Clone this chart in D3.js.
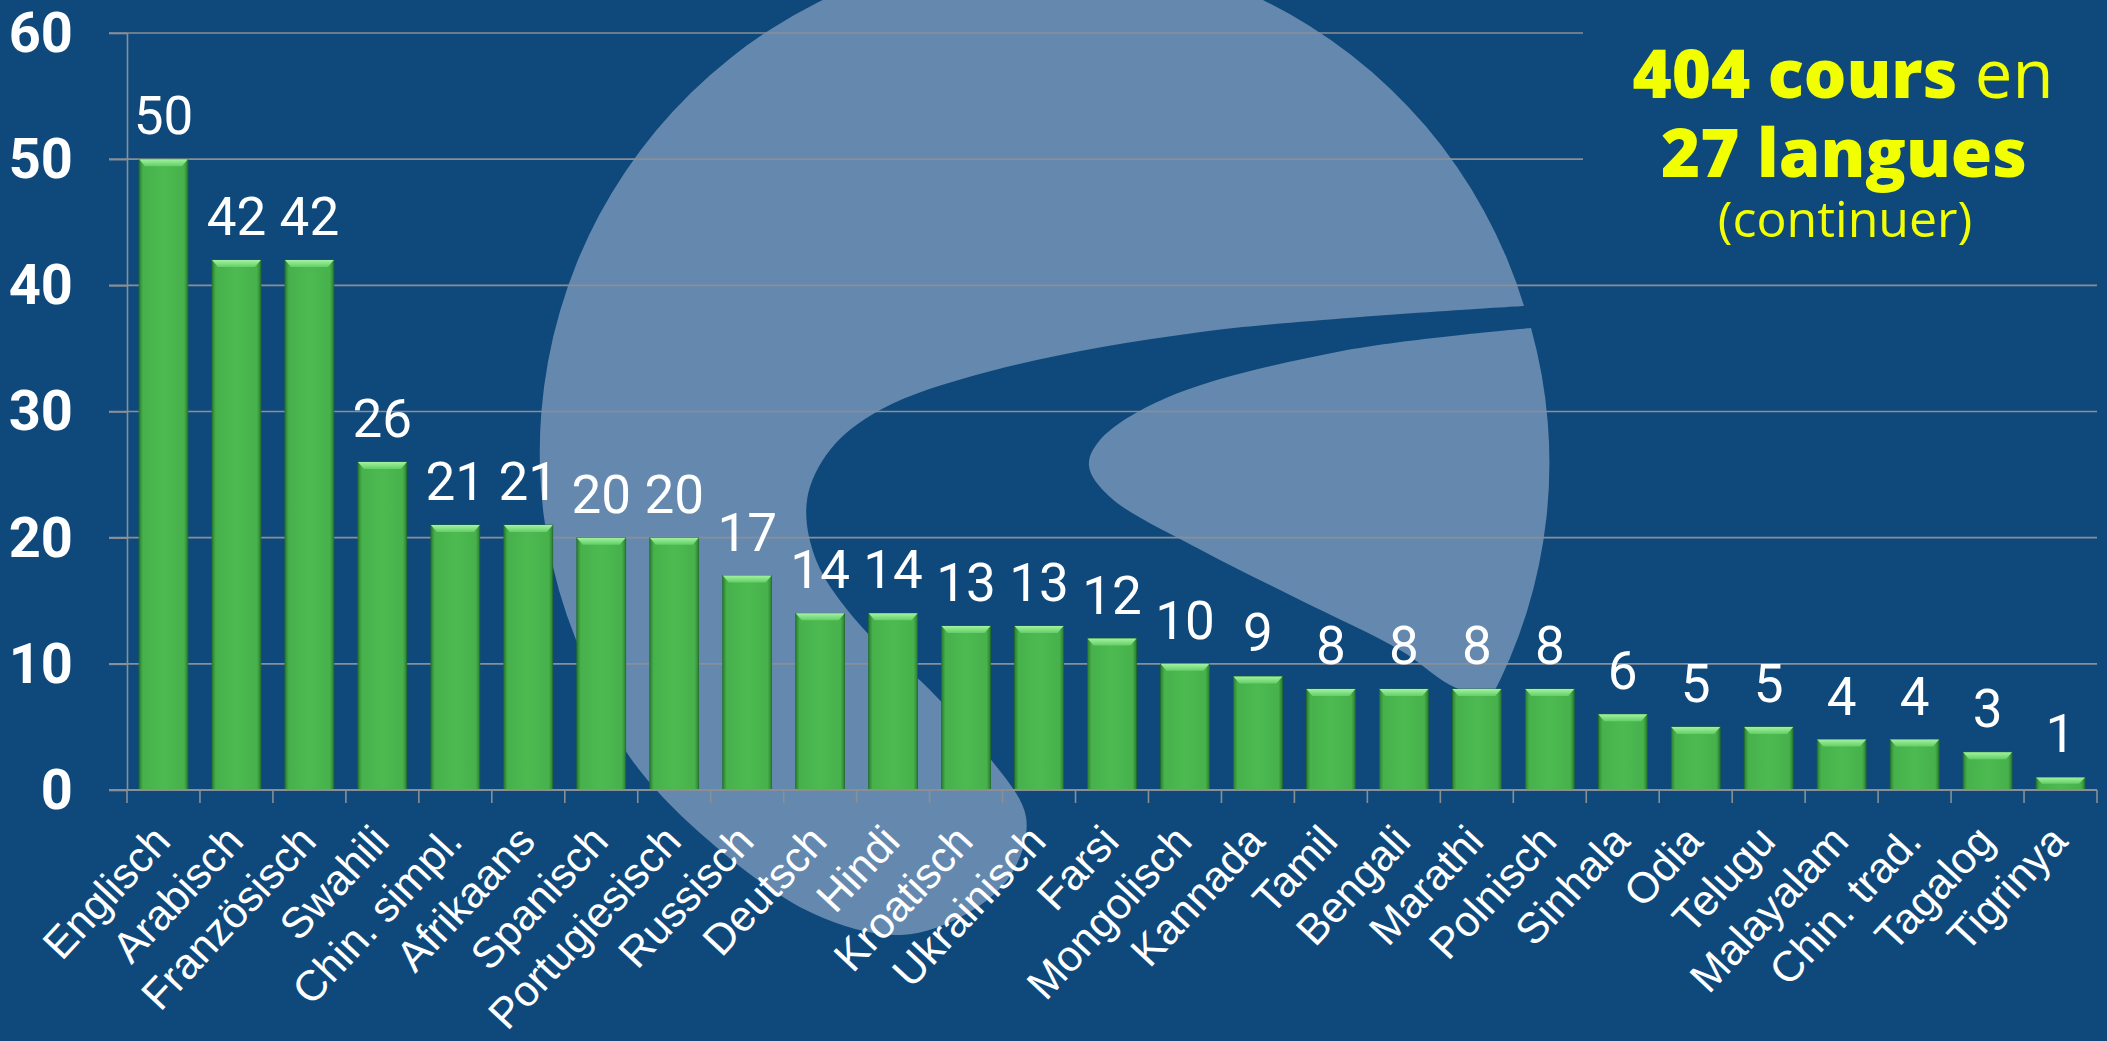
<!DOCTYPE html>
<html>
<head>
<meta charset="utf-8">
<script src="https://cdn.jsdelivr.net/npm/d3@7"></script>
<style>
  html, body { margin: 0; padding: 0; background: #0f497b; }
  svg { display: block; }
</style>
</head>
<body>
<div id="chart"></div>
<script>
// Language course counts
const languages = ["Englisch", "Arabisch", "Französisch", "Swahili", "Chin. simpl.", "Afrikaans",
  "Spanisch", "Portugiesisch", "Russisch", "Deutsch", "Hindi", "Kroatisch", "Ukrainisch", "Farsi",
  "Mongolisch", "Kannada", "Tamil", "Bengali", "Marathi", "Polnisch", "Sinhala", "Odia", "Telugu",
  "Malayalam", "Chin. trad.", "Tagalog", "Tigrinya"];
const courses = [50, 42, 42, 26, 21, 21, 20, 20, 17, 14, 14, 13, 13, 12, 10, 9, 8, 8, 8, 8, 6, 5, 5, 4, 4, 3, 1];
const yTicks = [0, 10, 20, 30, 40, 50, 60];

(function () {
  "use strict";

  const W = 2107, H = 1041;
  const palette = {
    bg: "#0f497b",
    logo: "#6589ae",
    grid: "#8a8f96",
    text: "#ffffff",
    title: "#f2ff00",
  };

  const rows = languages.map((name, i) => ({ name, value: courses[i] }));

  const svg = d3.select("#chart").append("svg")
    .attr("width", W).attr("height", H)
    .attr("viewBox", [0, 0, W, H]);

  svg.append("rect").attr("width", W).attr("height", H).attr("fill", palette.bg);

  // --- Scales ---
  const x = d3.scaleBand().domain(languages).range([127, 2097]).paddingInner(0.33).paddingOuter(0.165);
  const y = d3.scaleLinear().domain([0, 60]).range([790, 33]);
  const bw = x.bandwidth();
  const gap = (x.step() - bw) / 2;

  // --- Background logo ---
  const curve = d3.line().curve(d3.curveCatmullRom);
  const outerPts = [[586, 663], [625, 750], [700, 833], [812, 913], [901, 935], [968, 913], [1012, 873],
    [1026, 817], [985, 752], [930, 690], [860, 625], [816, 560], [807, 500], [830, 450], [880, 410],
    [991, 371], [1201, 332], [1524, 306]];
  const lobePts = [[1531, 328], [1342, 351], [1166, 398], [1100, 440], [1089, 466], [1110, 497],
    [1201, 550], [1300, 600], [1400, 650], [1450, 685], [1490, 700]];
  const logo = svg.append("g").attr("fill", palette.logo);
  logo.append("path").attr("d", curve(outerPts) + "A503,503 0 1 0 586,663Z");
  logo.append("path").attr("d", curve(lobePts) + "A503,503 0 0 0 1531,328Z");

  // --- Gridlines ---
  svg.append("g")
    .selectAll("line")
    .data(yTicks.filter((t) => t > 0))
    .join("line")
    .attr("x1", 109).attr("x2", 2097)
    .attr("y1", (d) => y(d)).attr("y2", (d) => y(d))
    .attr("stroke", palette.grid).attr("stroke-width", 1.6);

  // panel behind the headline hides the top gridlines
  svg.append("rect").attr("x", 1583).attr("y", 0).attr("width", W - 1583).attr("height", 255)
    .attr("fill", palette.bg);

  // --- Bar gradients ---
  const defs = svg.append("defs");
  const body = defs.append("linearGradient").attr("id", "barBody").attr("x1", 0).attr("x2", 1).attr("y1", 0).attr("y2", 0);
  [[0, "#2a7f31"], [0.08, "#47b14b"], [0.5, "#4cba51"], [0.92, "#47b14b"], [1, "#2a7f31"]]
    .forEach(([o, c]) => body.append("stop").attr("offset", o).attr("stop-color", c));
  const bevel = defs.append("linearGradient").attr("id", "barTop").attr("x1", 0).attr("x2", 0).attr("y1", 0).attr("y2", 1);
  [[0, "#a4f2a0"], [1, "#62cf66"]].forEach(([o, c]) => bevel.append("stop").attr("offset", o).attr("stop-color", c));

  // --- Bars ---
  const bars = svg.append("g").selectAll("g").data(rows).join("g");
  bars.append("rect")
    .attr("x", (d) => x(d.name)).attr("y", (d) => y(d.value))
    .attr("width", bw).attr("height", (d) => y(0) - y(d.value))
    .attr("fill", "url(#barBody)")
    .attr("stroke", "#236e2a").attr("stroke-width", 0.8);
  bars.append("path")
    .attr("d", (d) => {
      const x0 = x(d.name), y0 = y(d.value);
      const b = Math.min(7, (y(0) - y0) / 2);
      return `M${x0},${y0}H${x0 + bw}L${x0 + bw - 6},${y0 + b}H${x0 + 6}Z`;
    })
    .attr("fill", "url(#barTop)");

  // --- Value labels ---
  svg.append("g").selectAll("text").data(rows).join("text")
    .attr("x", (d) => x(d.name) + bw / 2)
    .attr("y", (d) => y(d.value) - 25)
    .attr("text-anchor", "middle")
    .attr("fill", palette.text)
    .attr("font-family", "Roboto, sans-serif")
    .attr("font-size", 53)
    .text((d) => d.value);

  // --- Y axis ---
  const yAxis = svg.append("g")
    .attr("transform", "translate(127,0)")
    .call(d3.axisLeft(y).tickValues(yTicks).tickSize(18).tickSizeOuter(0).tickPadding(36));
  yAxis.select(".domain").attr("stroke", palette.grid).attr("stroke-width", 1.6);
  yAxis.selectAll(".tick line").attr("stroke", palette.grid).attr("stroke-width", 1.6);
  yAxis.selectAll(".tick text")
    .attr("fill", palette.text)
    .attr("font-family", "Roboto, sans-serif")
    .attr("font-weight", 700)
    .attr("font-size", 56)
    .attr("dy", "0.33em");

  // --- X axis (ticks between categories) ---
  const xAxis = svg.append("g");
  const bounds = languages.map((d) => x(d) - gap).concat([x(languages[languages.length - 1]) + bw + gap]);
  xAxis.append("line")
    .attr("x1", 109).attr("x2", bounds[bounds.length - 1])
    .attr("y1", y(0)).attr("y2", y(0))
    .attr("stroke", palette.grid).attr("stroke-width", 2);
  xAxis.selectAll(".tk").data(bounds).join("line").attr("class", "tk")
    .attr("x1", (d) => d).attr("x2", (d) => d)
    .attr("y1", y(0)).attr("y2", y(0) + 13)
    .attr("stroke", palette.grid).attr("stroke-width", 1.6);
  xAxis.selectAll("text").data(languages).join("text")
    .attr("transform", (d) => `translate(${x(d) + bw / 2 + 9},843) rotate(-47)`)
    .attr("text-anchor", "end")
    .attr("fill", palette.text)
    .attr("font-family", "'Liberation Sans', Arial, sans-serif")
    .attr("font-size", 43)
    .text((d) => d);

  // --- Headline ---
  const title = svg.append("g")
    .attr("fill", palette.title)
    .attr("font-family", "'Open Sans', sans-serif")
    .attr("text-anchor", "middle");
  const l1 = title.append("text").attr("x", 1843).attr("y", 98).attr("font-size", 67);
  l1.append("tspan").attr("font-weight", 800).text("404 cours");
  l1.append("tspan").attr("font-weight", 400).text(" en");
  title.append("text").attr("x", 1844).attr("y", 177).attr("font-size", 67).attr("font-weight", 800)
    .text("27 langues");
  title.append("text").attr("x", 1845).attr("y", 237).attr("font-size", 50).attr("font-weight", 400)
    .text("(continuer)");
})();
</script>
</body>
</html>
